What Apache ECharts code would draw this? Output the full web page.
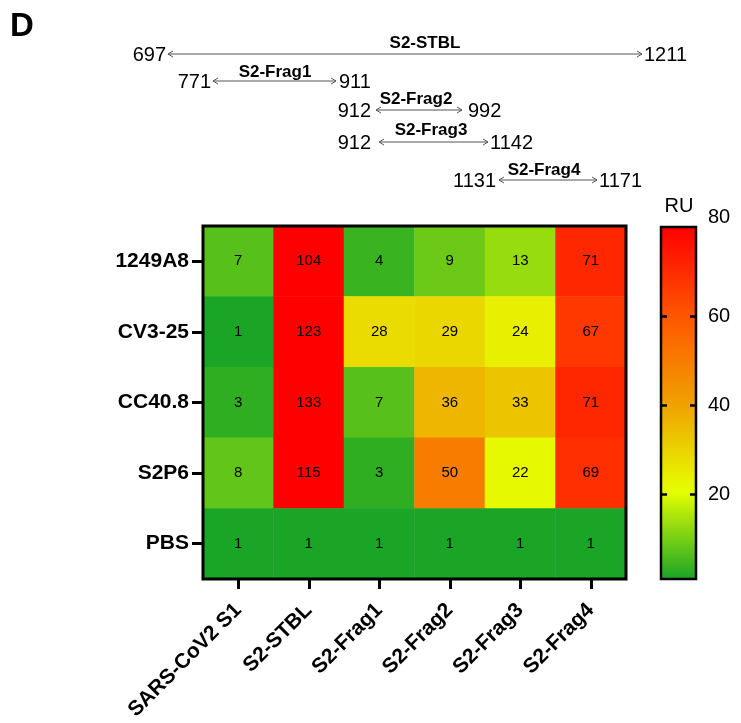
<!DOCTYPE html>
<html><head><meta charset="utf-8">
<script src="https://cdn.jsdelivr.net/npm/echarts@6/dist/echarts.min.js"></script>
<style>html,body{margin:0;padding:0;background:#fff}#c{width:741px;height:723px}</style>
</head><body><div id="c"></div>
<script>
// ---- data ----
const antibodies = ['1249A8', 'CV3-25', 'CC40.8', 'S2P6', 'PBS'];
const antigens = ['SARS-CoV2 S1', 'S2-STBL', 'S2-Frag1', 'S2-Frag2', 'S2-Frag3', 'S2-Frag4'];
const ru_1249A8 = [7, 104, 4, 9, 13, 71];
const ru_CV3_25 = [1, 123, 28, 29, 24, 67];
const ru_CC40_8 = [3, 133, 7, 36, 33, 71];
const ru_S2P6   = [8, 115, 3, 50, 22, 69];
const ru_PBS    = [1, 1, 1, 1, 1, 1];
const colorMin = 1, colorMax = 80;
const colorbarTickValues = [20, 40, 60];
const colorbarLabelValues = [20, 40, 60, 80];
const fragNames = ['S2-STBL', 'S2-Frag1', 'S2-Frag2', 'S2-Frag3', 'S2-Frag4'];
const fragStart = [697, 771, 912, 912, 1131];
const fragEnd   = [1211, 911, 992, 1142, 1171];

// ---- layout (positions only) ----
const fragLayout = [
  {ax:166, x1:168, x2:642, bx:644, y:54,  lx:425, ly:43},
  {ax:211, x1:213, x2:336, bx:339, y:81,  lx:275, ly:72},
  {ax:371, x1:376, x2:462, bx:468, y:110, lx:416, ly:99},
  {ax:371, x1:379, x2:488, bx:490, y:142, lx:431, ly:130},
  {ax:496, x1:499, x2:597, bx:599, y:180, lx:544, ly:170}
];
const FONT = '"Liberation Sans", Arial, sans-serif';

const rows = [ru_1249A8, ru_CV3_25, ru_CC40_8, ru_S2P6, ru_PBS];
const data = [];
rows.forEach((r, i) => r.forEach((v, j) => data.push([j, i, v])));

const graphics = [
  {type:'text', left:10, top:10, style:{text:'D', font:'bold 33px ' + FONT, fill:'#000'}},
  {type:'text', x:679, y:206, style:{text:'RU', font:'20px ' + FONT, fill:'#000', align:'center', verticalAlign:'middle'}}
];
const stroke = '#555';
fragNames.forEach((name, k) => {
  const L = fragLayout[k];
  graphics.push({type:'line', shape:{x1:L.x1, y1:L.y, x2:L.x2, y2:L.y}, style:{stroke, lineWidth:1}});
  graphics.push({type:'polyline', shape:{points:[[L.x1+5, L.y-3],[L.x1, L.y],[L.x1+5, L.y+3]]}, style:{stroke, lineWidth:1, fill:null}});
  graphics.push({type:'polyline', shape:{points:[[L.x2-5, L.y-3],[L.x2, L.y],[L.x2-5, L.y+3]]}, style:{stroke, lineWidth:1, fill:null}});
  graphics.push({type:'text', x:L.ax, y:L.y+1, style:{text:String(fragStart[k]), font:'20px ' + FONT, fill:'#000', align:'right', verticalAlign:'middle'}});
  graphics.push({type:'text', x:L.bx, y:L.y+1, style:{text:String(fragEnd[k]), font:'20px ' + FONT, fill:'#000', align:'left', verticalAlign:'middle'}});
  graphics.push({type:'text', x:L.lx, y:L.ly, style:{text:name, font:'bold 17px ' + FONT, fill:'#000', align:'center', verticalAlign:'middle'}});
});

const tickAxis = (gridIndex) => ({
  type:'value', gridIndex, min:colorMin, max:colorMax, position:'left', z:12,
  axisLine:{show:false},
  axisTick:{show:true, inside:true, length:6, customValues:colorbarTickValues, lineStyle:{color:'#000', width:2.5}},
  axisLabel:{show:false},
  splitLine:{show:false}
});

const chart = echarts.init(document.getElementById('c'));
chart.setOption({
  animation: false,
  backgroundColor: '#fff',
  grid: [
    {left:203, top:226, width:423, height:353, show:true, borderColor:'#000', borderWidth:3, backgroundColor:'transparent', z:10},
    {left:661, top:227, width:35, height:352, show:true, borderColor:'#000', borderWidth:2.5, backgroundColor:'transparent', z:10},
    {left:690, top:227, width:6, height:352, show:false},
    {left:661, top:227, width:6, height:352, show:false}
  ],
  xAxis: [
    {type:'category', gridIndex:0, data:antigens, position:'bottom',
     axisLine:{show:false},
     axisTick:{show:true, alignWithLabel:true, length:10, lineStyle:{color:'#000', width:3}},
     axisLabel:{interval:0, rotate:45, margin:28, fontSize:21, fontWeight:'bold', color:'#000', fontFamily:FONT},
     splitLine:{show:false}},
    {type:'value', gridIndex:1, show:false, min:0, max:1},
    {type:'value', gridIndex:2, show:false, min:0, max:1},
    {type:'value', gridIndex:3, show:false, min:0, max:1}
  ],
  yAxis: [
    {type:'category', gridIndex:0, data:antibodies, inverse:true,
     axisLine:{show:false},
     axisTick:{show:true, alignWithLabel:true, length:11, lineStyle:{color:'#000', width:3}},
     axisLabel:{interval:0, margin:14, fontSize:21, fontWeight:'bold', color:'#000', fontFamily:FONT},
     splitLine:{show:false}},
    {type:'value', gridIndex:1, min:colorMin, max:colorMax, position:'right', z:12,
     axisLine:{show:false},
     axisTick:{show:false},
     axisLabel:{show:true, margin:12, fontSize:20, color:'#000', fontFamily:FONT, customValues:colorbarLabelValues, verticalAlignMaxLabel:'bottom'},
     splitLine:{show:false}},
    tickAxis(2),
    tickAxis(3)
  ],
  visualMap: {
    type:'continuous', seriesIndex:0, dimension:2, min:colorMin, max:colorMax, z:1,
    calculable:false, orient:'vertical', left:661, top:227, itemWidth:35, itemHeight:352,
    padding:0, text:null, showLabel:false, hoverLink:false,
    inRange:{color:['#1aa526', '#e6ff00', '#f0a000', '#ff5500', '#ff0000']}
  },
  series: [{
    type:'heatmap', xAxisIndex:0, yAxisIndex:0, data:data,
    label:{show:true, fontSize:15, color:'#000', fontFamily:FONT},
    itemStyle:{borderWidth:0},
    emphasis:{disabled:true}
  }],
  graphic: graphics
});
</script></body></html>
